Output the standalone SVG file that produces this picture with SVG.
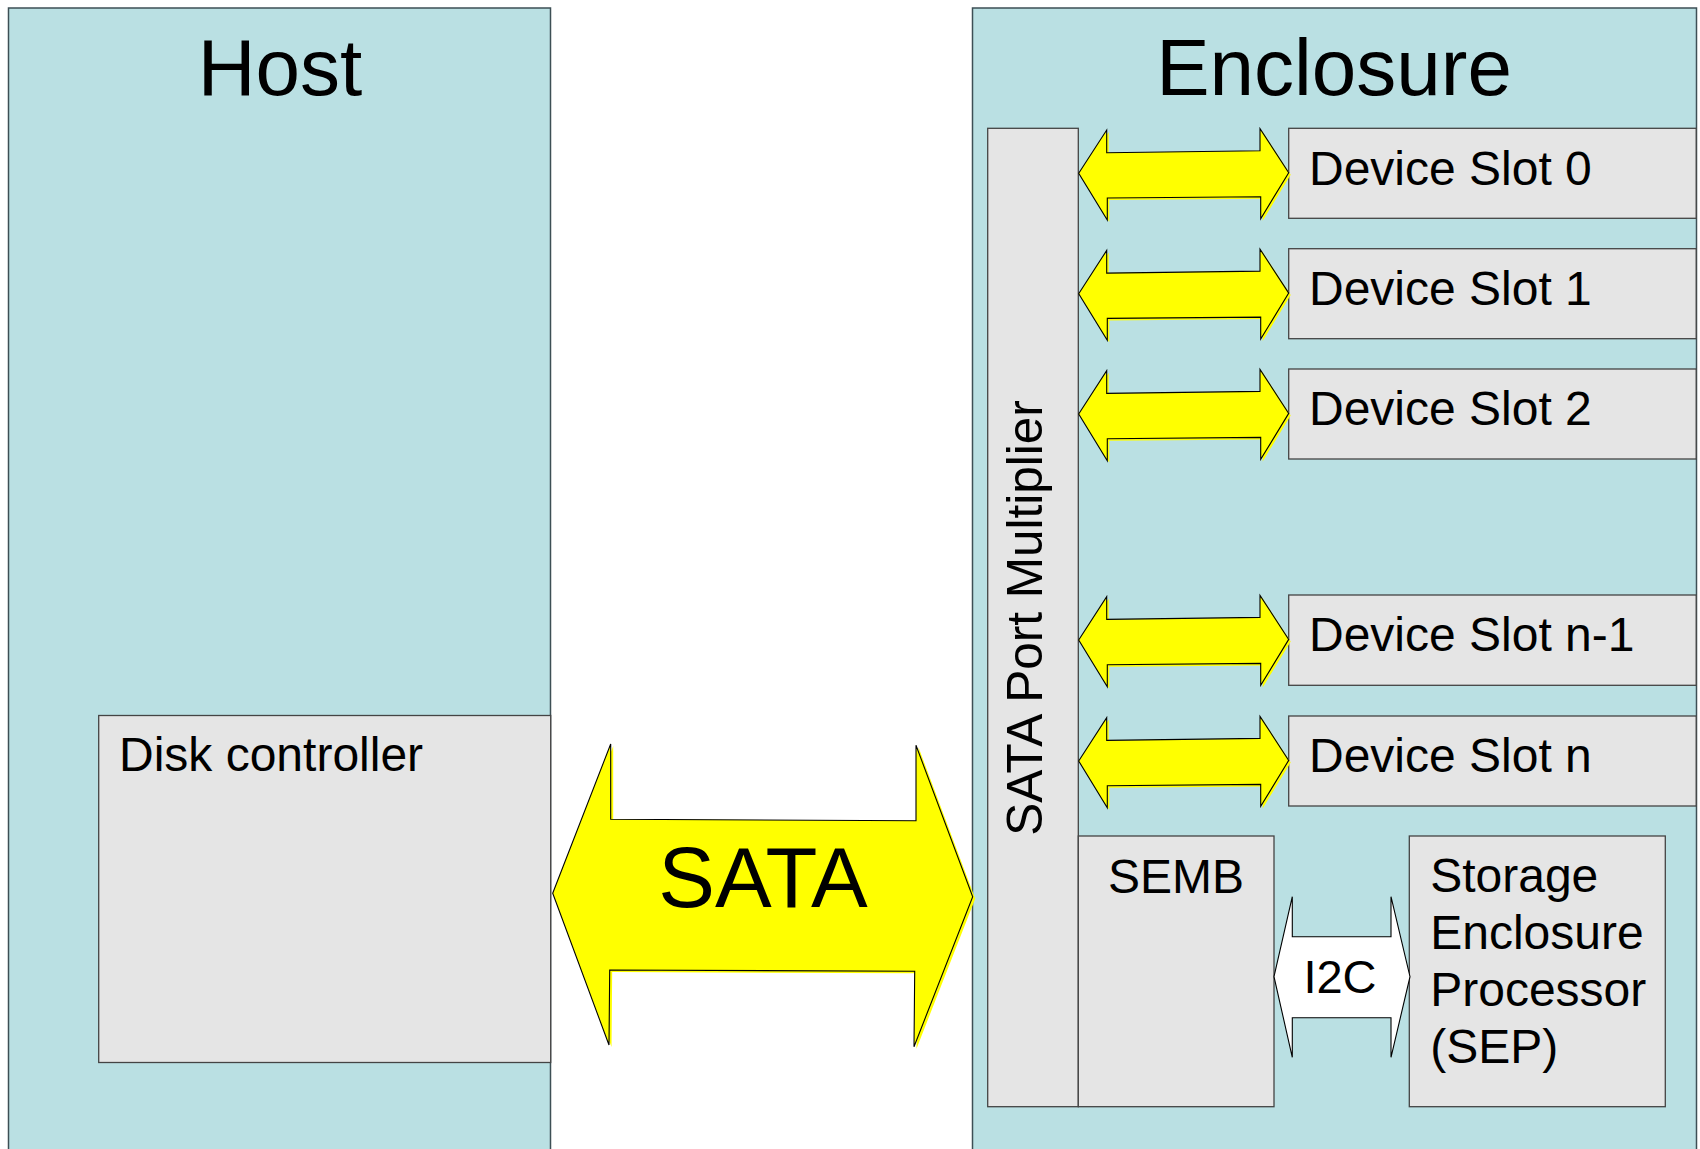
<svg xmlns="http://www.w3.org/2000/svg" width="1700" height="1149" viewBox="0 0 1700 1149">
<style>
.frame{fill:#bae0e3;stroke:#3d4f55;stroke-width:1.5}
.box{fill:#e5e5e5;stroke:#444;stroke-width:1.3}
.t{font-family:"Liberation Sans",Arial,sans-serif;fill:#000}
.title{font-size:80px;text-anchor:middle}
.lbl{font-size:48px}
.ya{fill:#ffff00;stroke:#000;stroke-width:1.1;stroke-linejoin:miter}
.ys{fill:#ffff00;stroke:none}
.wa{fill:#ffffff;stroke:#000;stroke-width:1.1}
</style>
<defs>
<path id="sarrow" d="M1078.7,45 L1106.7,1.7 L1106.7,24.4 L1260,22.4 L1260,0.4 L1288.7,44.4 L1260.7,90.4 L1260.7,68.4 L1107.3,69.7 L1107.3,91.7 Z"/>
</defs>
<rect width="1700" height="1149" fill="#fff"/>
<g id="host">
<rect class="frame" x="8.5" y="8" width="542" height="1160"/>
<text class="t title" x="280" y="95">Host</text>
</g>
<g id="disk-controller">
<rect class="box" x="98.7" y="715.5" width="452" height="347"/>
<text class="t lbl" x="119" y="771">Disk controller</text>
</g>
<g id="enclosure">
<rect class="frame" x="972.5" y="8" width="724" height="1160"/>
<text class="t title" x="1334" y="95">Enclosure</text>
</g>
<g id="port-multiplier">
<rect class="box" x="987.7" y="128.3" width="90.6" height="978.4"/>
<text class="t" font-size="49.5" transform="translate(1042,618) rotate(-90)" text-anchor="middle">SATA Port Multiplier</text>
</g>
<g id="slot0">
<rect class="box" x="1288.7" y="128.3" width="407.5" height="90"/>
<text class="t lbl" x="1309" y="184.5">Device Slot 0</text>
</g>
<g id="slot1">
<rect class="box" x="1288.7" y="248.7" width="407.5" height="90"/>
<text class="t lbl" x="1309" y="304.9">Device Slot 1</text>
</g>
<g id="slot2">
<rect class="box" x="1288.7" y="369" width="407.5" height="90"/>
<text class="t lbl" x="1309" y="425.2">Device Slot 2</text>
</g>
<g id="slotn1">
<rect class="box" x="1288.7" y="595" width="407.5" height="90.3"/>
<text class="t lbl" x="1309" y="651.2">Device Slot n-1</text>
</g>
<g id="slotn">
<rect class="box" x="1288.7" y="716" width="407.5" height="90"/>
<text class="t lbl" x="1309" y="772">Device Slot n</text>
</g>
<g id="semb">
<rect class="box" x="1078.3" y="836" width="195.7" height="270.7"/>
<text class="t lbl" x="1176" y="892.7" text-anchor="middle">SEMB</text>
</g>
<g id="sep">
<rect class="box" x="1409.3" y="836" width="256" height="270.7"/>
<text class="t lbl" x="1430.2" y="891.7">Storage</text>
<text class="t lbl" x="1430.2" y="949.3">Enclosure</text>
<text class="t lbl" x="1430.2" y="1006">Processor</text>
<text class="t lbl" x="1430.2" y="1063.3">(SEP)</text>
</g>
<g id="connectors">
<g id="sata-link">
<path class="ys" transform="translate(2.5,2)" d="M552.7,893.3 L610.7,744 L610.7,819.3 L916,820.7 L916,745.3 L972.7,896.7 L914,1046.7 L914.7,971.3 L609.7,970 L609,1045 Z"/>
<path class="ya" d="M552.7,893.3 L610.7,744 L610.7,819.3 L916,820.7 L916,745.3 L972.7,896.7 L914,1046.7 L914.7,971.3 L609.7,970 L609,1045 Z"/>
<text class="t" x="763" y="907" font-size="85" text-anchor="middle">SATA</text>
</g>
<g id="link-slot0" transform="translate(0,128.3)"><use href="#sarrow" class="ys" transform="translate(2,2)"/><use href="#sarrow" class="ya"/></g>
<g id="link-slot1" transform="translate(0,248.7)"><use href="#sarrow" class="ys" transform="translate(2,2)"/><use href="#sarrow" class="ya"/></g>
<g id="link-slot2" transform="translate(0,369)"><use href="#sarrow" class="ys" transform="translate(2,2)"/><use href="#sarrow" class="ya"/></g>
<g id="link-slotn1" transform="translate(0,595)"><use href="#sarrow" class="ys" transform="translate(2,2)"/><use href="#sarrow" class="ya"/></g>
<g id="link-slotn" transform="translate(0,716)"><use href="#sarrow" class="ys" transform="translate(2,2)"/><use href="#sarrow" class="ya"/></g>
<g id="i2c-link">
<path class="wa" d="M1274,976.7 L1292.3,896.7 L1292.3,936.7 L1391,936.7 L1391,896.7 L1410,976.7 L1391,1057.3 L1391,1017.7 L1292.3,1017.7 L1292.3,1057.3 Z"/>
<text class="t" x="1340" y="993.3" font-size="47" text-anchor="middle">I2C</text>
</g>
</g>
</svg>
